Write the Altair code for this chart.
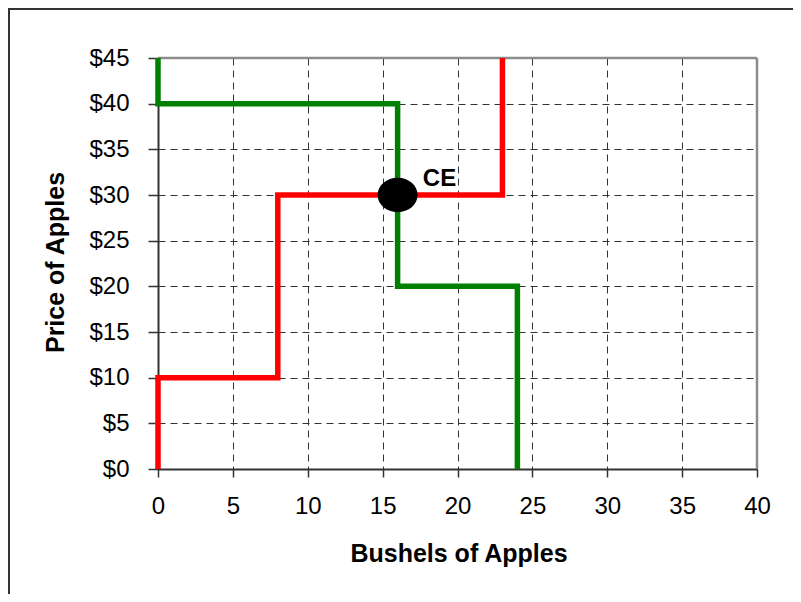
import altair as alt
import pandas as pd

# Demand (green) and Supply (red) step curves
demand_q = [0, 0, 16, 16, 24, 24]
demand_p = [45, 40, 40, 20, 20, 0]
supply_q = [0, 0, 8, 8, 23, 23]
supply_p = [0, 10, 10, 30, 30, 45]

# Competitive equilibrium
ce_q = [16]
ce_p = [30]
ce_label = ["CE"]
ce_label_q = [18.8]
ce_label_p = [31.0]

x_ticks = [0, 5, 10, 15, 20, 25, 30, 35, 40]
y_ticks = [0, 5, 10, 15, 20, 25, 30, 35, 40, 45]

FONT = "Liberation Sans"

rows = []
for i, (q, p) in enumerate(zip(demand_q, demand_p)):
    rows.append({"curve": "Demand", "step": i, "q": q, "p": p})
for i, (q, p) in enumerate(zip(supply_q, supply_p)):
    rows.append({"curve": "Supply", "step": i, "q": q, "p": p})
lines_df = pd.DataFrame(rows)

ce_df = pd.DataFrame({"q": ce_q, "p": ce_p})
lab_df = pd.DataFrame({"q": ce_label_q, "p": ce_label_p, "t": ce_label})
border_df = pd.DataFrame({"q": [0, 40], "q2": [40, 40], "p": [45, 0], "p2": [45, 45]})
frame_df = pd.DataFrame({"a": [0]})

xscale = alt.Scale(domain=[0, 40], nice=False, zero=False)
yscale = alt.Scale(domain=[0, 45], nice=False, zero=False)

xaxis = alt.Axis(
    values=x_ticks, title="Bushels of Apples", grid=True,
    gridDash=[7, 5], gridColor="#333333", gridWidth=1,
    domainColor="#333333", domainWidth=2, tickColor="#333333", tickWidth=1.5,
    tickSize=8, labelFontSize=24, labelFont=FONT, labelColor="black",
    labelPadding=17, labelFlush=False, labelOverlap=False,
    titleFont=FONT, titleFontSize=25, titleFontWeight="bold", titleColor="black",
    titleX=300.5, titleY=92, titleBaseline="alphabetic", titleAlign="center",
)
yaxis = alt.Axis(
    values=y_ticks, format="$.0f", title="Price of Apples", grid=True,
    gridDash=[7, 5], gridColor="#333333", gridWidth=1,
    domainColor="#333333", domainWidth=2, tickColor="#333333", tickWidth=1.5,
    tickSize=10, labelFontSize=24, labelFont=FONT, labelColor="black",
    labelPadding=19, labelFlush=False, labelOverlap=False,
    titleFont=FONT, titleFontSize=25, titleFontWeight="bold", titleColor="black",
    titleX=-95, titleY=204, titleBaseline="alphabetic", titleAlign="center",
    titleAngle=-90,
)

frame = alt.Chart(frame_df).mark_rect(
    fill=None, fillOpacity=0, stroke="#333333", strokeWidth=2
).encode(
    x=alt.value(-149), x2=alt.value(700), y=alt.value(-49), y2=alt.value(600)
)

base_axes = alt.Chart(lines_df).mark_line(opacity=0).encode(
    x=alt.X("q:Q", scale=xscale, axis=xaxis),
    y=alt.Y("p:Q", scale=yscale, axis=yaxis),
    detail="curve:N",
)

borders = alt.Chart(border_df).mark_rule(color="#8c8c8c", strokeWidth=2.5).encode(
    x=alt.X("q:Q", scale=xscale), x2="q2:Q",
    y=alt.Y("p:Q", scale=yscale), y2="p2:Q",
)

lines = alt.Chart(lines_df).mark_line(
    strokeWidth=5.5, strokeCap="butt", strokeJoin="miter"
).encode(
    x=alt.X("q:Q", scale=xscale),
    y=alt.Y("p:Q", scale=yscale),
    color=alt.Color("curve:N", scale=alt.Scale(domain=["Demand", "Supply"],
                                               range=["#008000", "#ff0000"]), legend=None),
    order="step:O",
)

ellipse_path = "M -1 0 A 1 0.86 0 1 0 1 0 A 1 0.86 0 1 0 -1 0 Z"
ce = alt.Chart(ce_df).mark_point(
    shape=ellipse_path, filled=True, fill="black", stroke="black",
    strokeWidth=0, opacity=1, size=1600
).encode(
    x=alt.X("q:Q", scale=xscale),
    y=alt.Y("p:Q", scale=yscale),
)

ce_text = alt.Chart(lab_df).mark_text(
    font=FONT, fontSize=24, fontWeight="bold", color="black",
    align="center", baseline="alphabetic"
).encode(
    x=alt.X("q:Q", scale=xscale),
    y=alt.Y("p:Q", scale=yscale),
    text="t:N",
)

chart = alt.layer(frame, base_axes, borders, lines, ce, ce_text).properties(
    width=599, height=411,
    autosize=alt.AutoSizeParams(type="none"),
    padding={"left": 150, "top": 50, "right": 36, "bottom": 125},
    background="white",
).configure_view(stroke=None)

chart.save("out.html", embed_options={"renderer": "svg", "actions": False})
